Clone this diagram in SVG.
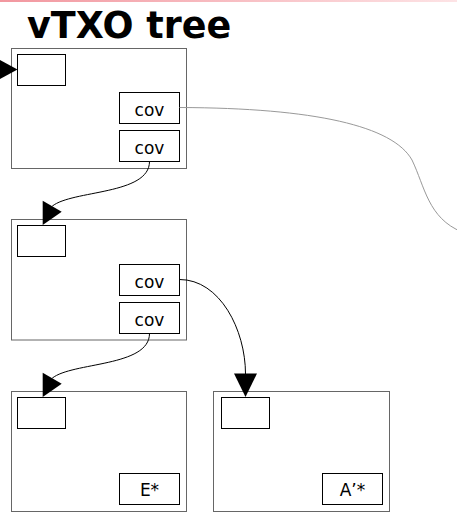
<svg xmlns="http://www.w3.org/2000/svg" width="457" height="514" viewBox="0 0 457 514">
<defs>
<linearGradient id="band" x1="0" y1="0" x2="1" y2="0">
<stop offset="0" stop-color="#f2979f"/>
<stop offset="1" stop-color="#fde3e5"/>
</linearGradient>
</defs>
<style>
.outer{fill:#fff;stroke:#666;stroke-width:1}
.inner{fill:#fff;stroke:#000;stroke-width:1}
.lbl{font-family:"DejaVu Sans","Liberation Sans",sans-serif;font-size:17px;fill:#000;text-anchor:middle}
.title{font-family:"DejaVu Sans","Liberation Sans",sans-serif;font-size:36.5px;font-weight:bold;fill:#000}
.edge{fill:none;stroke:#000;stroke-width:1}
.edge-grey{fill:none;stroke:#999;stroke-width:1}
.head{fill:#000;stroke:none}
</style>
<rect x="0" y="0" width="457" height="2" fill="url(#band)"/>
<text class="title" x="27" y="38">vTXO tree</text>

<g id="node1">
<rect class="outer" x="11.5" y="48.5" width="175" height="120"/>
<rect class="inner" x="17.5" y="54.5" width="48" height="31"/>
<rect class="inner" x="119.5" y="92.5" width="60" height="31"/>
<text class="lbl" x="149.5" y="115.5">cov</text>
<rect class="inner" x="119.5" y="130.5" width="60" height="31"/>
<text class="lbl" x="149.5" y="153.5">cov</text>
</g>

<g id="node2">
<rect class="outer" x="11.5" y="219.5" width="175" height="120.5"/>
<rect class="inner" x="17.5" y="225.5" width="48" height="31"/>
<rect class="inner" x="119.5" y="264.5" width="60" height="31"/>
<text class="lbl" x="149.5" y="287.5">cov</text>
<rect class="inner" x="119.5" y="302.5" width="60" height="31"/>
<text class="lbl" x="149.5" y="325.5">cov</text>
</g>

<g id="node3">
<rect class="outer" x="11.5" y="391.5" width="175" height="120"/>
<rect class="inner" x="17.5" y="397.5" width="48" height="31"/>
<rect class="inner" x="119.5" y="473.5" width="60" height="31"/>
<text class="lbl" x="149.5" y="496">E*</text>
</g>

<g id="node4">
<rect class="outer" x="213.5" y="391.5" width="176" height="120"/>
<rect class="inner" x="221.5" y="397.5" width="48" height="31"/>
<rect class="inner" x="322.5" y="473.5" width="60" height="31"/>
<text class="lbl" x="352.5" y="496">A’*</text>
</g>

<g id="connectors">
<path class="edge" d="M-10,69.5 L0,69.5"/>
<polygon class="head" points="-3.5,58 17.5,69.5 -3.5,81"/>
<path class="edge" d="M149.5,161.5 C149.5,195 72,190 52.2,206.2"/>
<polygon class="head" points="42.7,200.7 61.7,211.7 42.7,225"/>
<path class="edge" d="M149.5,333.5 C149.5,367 72,362 52.2,378.2"/>
<polygon class="head" points="42.7,372.7 61.7,383.7 42.7,397"/>
<path class="edge" d="M179.5,279.5 C220,279.5 245.5,330 245.5,374"/>
<polygon class="head" points="234,373.5 257,373.5 245.5,397"/>
<path class="edge-grey" d="M179.5,107.5 C315,108 393,126 412,160 C425,187 428,218 462,232"/>
</g>
</svg>
